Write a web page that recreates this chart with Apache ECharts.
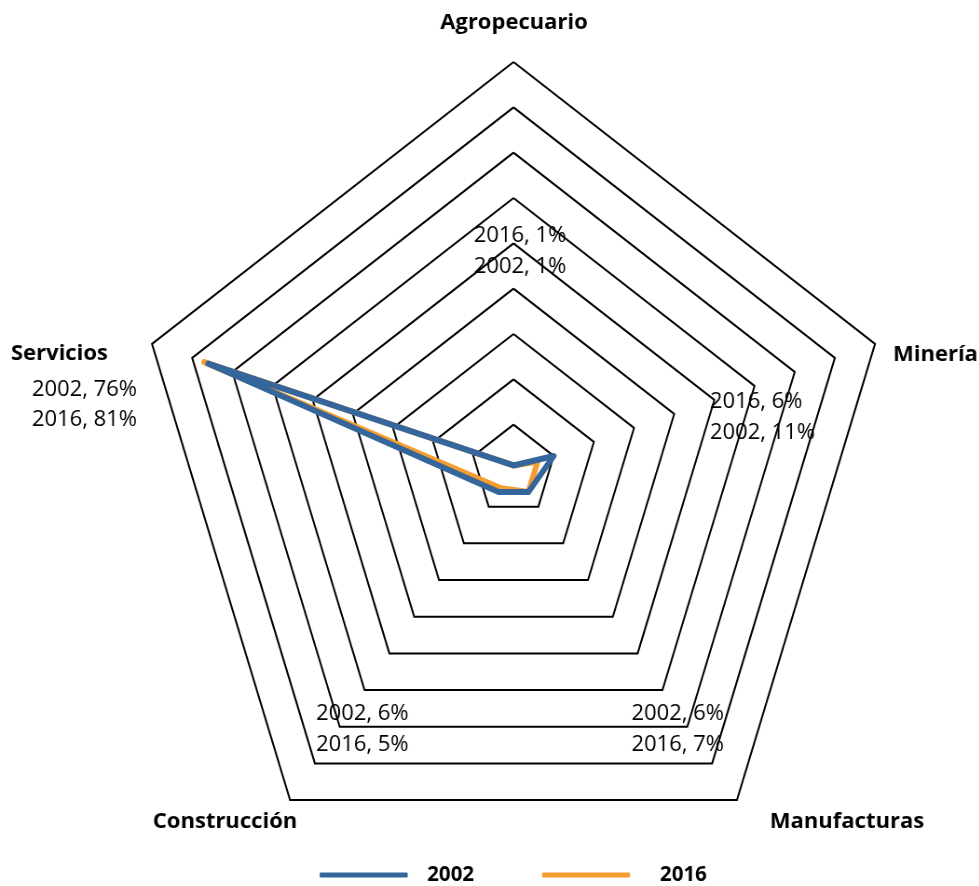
<!DOCTYPE html>
<html>
<head>
<meta charset="utf-8">
<script src="https://cdn.jsdelivr.net/npm/echarts@6/dist/echarts.min.js"></script>
<style>
  body { margin: 0; background: #fff; }
  #wrap { width: 979px; height: 886px; overflow: hidden; }
  /* the reference pentagon is squeezed horizontally, so the canvas is too */
  #chart { width: 1050.8px; height: 886px; transform: scaleX(0.9317); transform-origin: 0 0; }
</style>
</head>
<body>
<div id="wrap"><div id="chart"></div></div>
<script>
var K = 0.9317;

var sectors = ['Agropecuario', 'Minería', 'Manufacturas', 'Construcción', 'Servicios'];
var years = ['2002', '2016'];
// plotted values
var values2002 = [1, 10, 6, 6, 76];
var values2016 = [1, 6, 6, 5, 77];
// shares written in the data labels
var shares2002 = [1, 11, 6, 6, 76];
var shares2016 = [1, 6, 7, 5, 81];
var maxValue = 90;

var blue = '#35669b';
var orange = '#f59d2f';
var font = '"Open Sans", "Noto Sans", sans-serif';

// screen positions of the sector names
var nameLayout = [
    { x: 514, y: 23, align: 'center' },
    { x: 893, y: 355, align: 'left' },
    { x: 847, y: 822, align: 'center' },
    { x: 225, y: 822, align: 'center' },
    { x: 11, y: 354, align: 'left' }
];
// screen positions of the data labels, y for [2002, 2016]
var labelLayout = [
    { x: 520, y: [267, 236], align: 'center' },
    { x: 710, y: [433, 402], align: 'left' },
    { x: 724, y: [714, 745], align: 'right' },
    { x: 316, y: [714, 745], align: 'left' },
    { x: 32, y: [390, 420], align: 'left' }
];

// echarts places radar indicators counter-clockwise from the top
var order = [0, 4, 3, 2, 1];
function reorder(arr) {
    return order.map(function (i) { return arr[i]; });
}

function txt(x, y, text, align, bold) {
    return {
        type: 'text',
        x: x / K,
        y: y,
        scaleX: 1 / K,
        z: 10,
        style: {
            text: text,
            fill: '#000',
            fontFamily: font,
            fontSize: 22,
            fontWeight: bold ? 'bold' : 'normal',
            align: align,
            verticalAlign: 'middle'
        }
    };
}

var graphics = [];
var i;
for (i = 0; i < sectors.length; i++) {
    graphics.push(txt(nameLayout[i].x, nameLayout[i].y, sectors[i], nameLayout[i].align, true));
    graphics.push(txt(labelLayout[i].x, labelLayout[i].y[0], years[0] + ', ' + shares2002[i] + '%', labelLayout[i].align, false));
    graphics.push(txt(labelLayout[i].x, labelLayout[i].y[1], years[1] + ', ' + shares2016[i] + '%', labelLayout[i].align, false));
}

var myChart = echarts.init(document.getElementById('chart'));
var option = {
    animation: false,
    backgroundColor: '#fff',
    legend: {
        data: [
            { name: years[0], textStyle: { padding: [0, 0, 0, 16] } },
            { name: years[1], textStyle: { padding: [0, 0, 0, 27] } }
        ],
        left: 315 / K,
        top: 859,
        icon: 'roundRect',
        itemWidth: 88 / K,
        itemHeight: 5,
        itemGap: 73,
        itemStyle: { borderWidth: 0 },
        textStyle: {
            fontFamily: font,
            fontSize: 22,
            fontWeight: 'bold',
            color: '#000'
        }
    },
    radar: {
        center: [513.5 / K, 470],
        radius: 408,
        startAngle: 90,
        shape: 'polygon',
        splitNumber: 9,
        indicator: reorder(sectors).map(function (s) {
            return { name: s, min: 0, max: maxValue };
        }),
        axisName: { show: false },
        axisLine: { show: false },
        axisTick: { show: false },
        axisLabel: { show: false },
        splitArea: { show: false },
        splitLine: { lineStyle: { color: '#000', width: 2 } }
    },
    series: [{
        type: 'radar',
        symbol: 'none',
        data: [
            {
                name: '2016',
                value: reorder(values2016),
                itemStyle: { color: orange },
                lineStyle: { color: orange, width: 6, cap: 'round', join: 'round' }
            },
            {
                name: '2002',
                value: reorder(values2002),
                itemStyle: { color: blue },
                lineStyle: { color: blue, width: 6, cap: 'round', join: 'round' }
            }
        ]
    }],
    graphic: graphics
};
myChart.setOption(option);
</script>
</body>
</html>
